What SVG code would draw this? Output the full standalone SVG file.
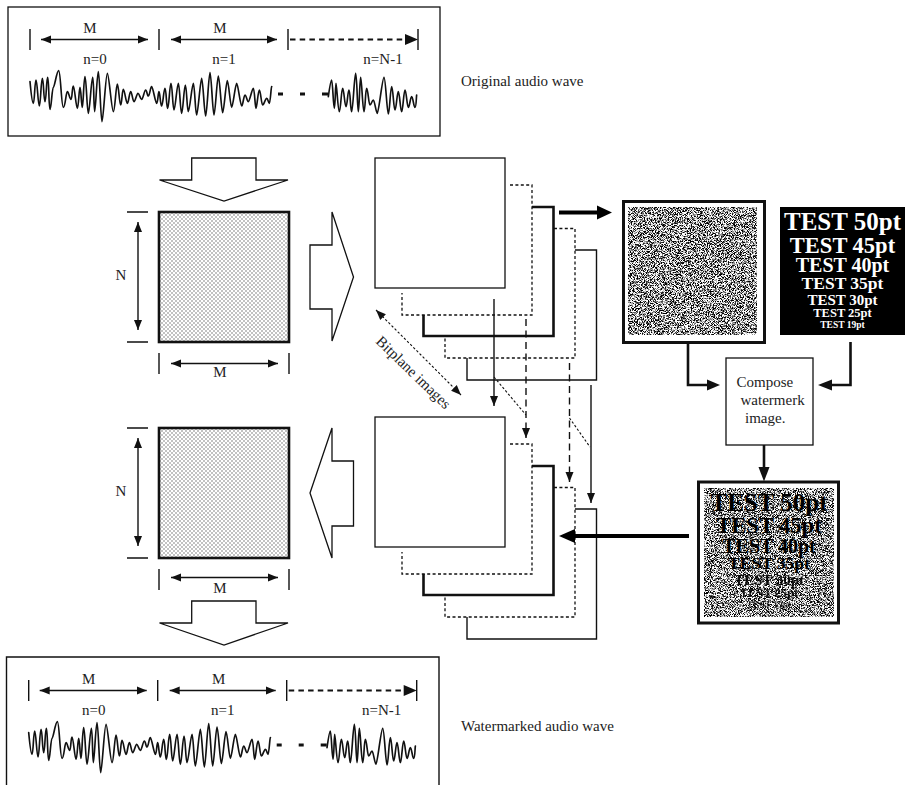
<svg xmlns="http://www.w3.org/2000/svg" width="905" height="785" viewBox="0 0 905 785">
<style>
text{font-family:"Liberation Serif","Times New Roman",serif;font-size:15px;fill:#222}
.c{text-anchor:middle}
.s{fill:none;stroke:#111;stroke-width:1.4;stroke-linecap:butt;stroke-linejoin:miter}
.w{fill:#fff;stroke:#111;stroke-width:1.3}
.t{stroke-width:2.6}
.d{stroke-width:1.3;stroke-dasharray:3 2.4}
.m{stroke-width:1.4;stroke-dasharray:7 4.5}
.o{stroke-width:1.1;stroke-dasharray:2.4 2}
.b{font-weight:bold;text-anchor:middle}
.wave{fill:none;stroke:#111;stroke-width:5;stroke-linejoin:round;stroke-linecap:round}
</style>
<defs>
<marker id="h" markerUnits="userSpaceOnUse" markerWidth="12" markerHeight="10" refX="10" refY="5" orient="auto-start-reverse"><path d="M0,1 L10,5 L0,9 Z" fill="#111"/></marker>
<pattern id="dots" width="4" height="4" patternUnits="userSpaceOnUse" x="159" y="212"><rect width="4" height="4" fill="#fff"/><circle cx="1" cy="1" r="0.75" fill="#666"/><circle cx="3" cy="3" r="0.75" fill="#666"/></pattern>
<filter id="noise" x="0" y="0" width="1" height="1" color-interpolation-filters="sRGB"><feTurbulence type="fractalNoise" baseFrequency="1.3" numOctaves="2" seed="7"/><feColorMatrix type="matrix" values="1 0 0 0 0 1 0 0 0 0 1 0 0 0 0 0 0 0 0 1"/><feComponentTransfer><feFuncR type="linear" slope="5" intercept="-1.9"/><feFuncG type="linear" slope="5" intercept="-1.9"/><feFuncB type="linear" slope="5" intercept="-1.9"/></feComponentTransfer></filter>
<g id="wavehead">
<path d="M30,29V50M159,29V50M288,29V50M418,29V50" class="s"/>
<path class="s" d="M41,39.500H148" marker-start="url(#h)" marker-end="url(#h)"/>
<path class="s" d="M171,39.500H277" marker-start="url(#h)" marker-end="url(#h)"/>
<path d="M290,39.500H406" class="s" style="stroke-width:2.200;stroke-dasharray:5.500 4.200"/>
<path d="M405,34L418,39.500L405,45Z" fill="#111"/>
<text class="c" x="90" y="32.500">M</text><text class="c" x="220" y="32.500">M</text>
<text class="c" x="95" y="64">n=0</text><text class="c" x="224" y="64">n=1</text><text class="c" x="383" y="64">n=N-1</text>
<path d="M278,94H283M300,94H305M322,94H328" stroke="#111" stroke-width="3.200" fill="none"/>
<path class="wave" transform="scale(.33333)" d="M90,245 S96,310 100,310 S104,240 108,240 S114,318 118,318 S123,235 127,235 S131,305 135,305 S139,232 143,232 S146,328 150,328 S156,262 160,262 S170,212 176,212 S184,322 190,322 S198,275 202,275 S209,298 213,298 S216,258 220,258 S228,325 232,325 S237,262 240,262 S244,322 247,322 S251,230 255,230 S261,340 265,340 S274,232 278,232 S281,335 284,335 S291,215 295,215 S302,365 306,365 S317,220 322,220 S335,335 340,335 S348,252 352,252 S358,315 362,315 S366,268 370,268 S378,310 382,310 S388,275 392,275 S398,305 402,305 S410,280 414,280 S421,298 425,298 S433,270 437,270 S441,288 445,288 S451,260 455,260 S466,310 470,310 S474,275 477,275 S481,318 485,318 S491,265 495,265 S499,325 503,325 S509,250 513,250 S518,330 522,330 S531,250 535,250 S541,340 545,340 S552,255 556,255 S561,335 565,335 S576,250 580,250 S586,345 590,345 S601,235 605,235 S613,348 617,348 S626,218 630,218 S638,345 642,345 S651,228 655,228 S664,338 668,338 S678,242 682,242 S691,322 695,322 S706,250 710,250 S721,318 725,318 S731,285 735,285 S741,305 745,305 S756,265 760,265 S765,325 768,325 S774,270 778,270 S784,315 788,315 S796,295 800,295 S805,310 808,310 S813,262 815,260"/>
<path class="wave" transform="scale(.33333)" d="M985,290 S992,240 995,240 S1000,325 1003,325 S1006,250 1008,250 S1014,335 1018,335 S1024,265 1028,265 S1034,320 1038,320 S1043,270 1047,270 S1051,335 1055,335 S1063,220 1067,220 S1072,335 1075,335 S1079,232 1082,232 S1088,335 1092,335 S1096,265 1100,265 S1106,315 1110,315 S1116,300 1120,300 S1128,340 1132,340 S1147,232 1152,232 S1161,342 1165,342 S1171,260 1175,260 S1181,330 1185,330 S1191,275 1195,275 S1201,335 1205,335 S1211,270 1215,270 S1221,322 1225,322 S1231,290 1235,290 S1241,322 1245,322 S1249,288 1250,285"/>
</g>
<g id="plane">
<path class="s d" d="M510,185H532V315H402V293"/>
<path class="s t" d="M532,207H553.500V336H423.500V315"/>
<path class="s d" d="M554,228.500H575V358H445V337"/>
<path class="s" d="M575,250H596.500V380H467V358"/>
</g>
<g id="sizes">
<path class="s" d="M127,212H148M127,342H148M159,353V374M289,353V374"/>
<text class="c" x="121" y="280">N</text>
<text class="c" x="220" y="377">M</text>
</g>
</defs>
<g id="original-wave">
<rect class="w" x="8" y="7" width="432" height="129"/>
<use href="#wavehead"/>
<text x="461" y="86">Original audio wave</text>
</g>
<g id="input-block">
<rect x="159" y="212" width="130" height="130" fill="url(#dots)" stroke="#111" stroke-width="2.600"/>
<use href="#sizes"/>
</g>
<g id="output-block">
<rect x="159" y="428" width="130" height="130" fill="url(#dots)" stroke="#111" stroke-width="2.600"/>
<use href="#sizes" y="216"/>
</g>
<g id="arrow-down-top"><path class="w" d="M191.700,158H256V180H288L224,201L159.500,180H191.700Z"/></g>
<g id="arrow-right"><path class="w" d="M310,245H332V212L353.500,277L332,341V309H310Z"/></g>
<g id="arrow-left"><path class="w" d="M353.500,461H332V428L310,493L332,558V526H353.500Z"/></g>
<g id="arrow-down-bottom"><path class="w" d="M191.700,601H256V623H288L224,645L159.500,623H191.700Z"/></g>
<g id="bitplanes-top">
<use href="#plane"/>
<rect class="w" x="375" y="158" width="130" height="130"/>
</g>
<g id="bitplanes-bottom">
<use href="#plane" y="259"/>
<rect class="w" x="375" y="417" width="130" height="130"/>
</g>
<g id="bitplane-label"><text class="c" transform="translate(410,376) rotate(44)" x="0" y="0">Bitplane images</text></g>
<g id="noise-image">
<rect x="623.500" y="201.500" width="141" height="141" fill="#fff" stroke="#111" stroke-width="3"/>
<rect x="628" y="207" width="129" height="128" filter="url(#noise)"/>
</g>
<g id="test-image">
<rect x="780" y="207" width="125" height="128" fill="#000"/>
<text class="b" style="fill:#fff;font-size:25px" x="842.500" y="230">TEST 50pt</text>
<text class="b" style="fill:#fff;font-size:22.500px" x="842.500" y="252.500">TEST 45pt</text>
<text class="b" style="fill:#fff;font-size:20px" x="842.500" y="271.500">TEST 40pt</text>
<text class="b" style="fill:#fff;font-size:17.500px" x="842.500" y="288.500">TEST 35pt</text>
<text class="b" style="fill:#fff;font-size:15px" x="842.500" y="305">TEST 30pt</text>
<text class="b" style="fill:#fff;font-size:12.500px" x="842.500" y="316.500">TEST 25pt</text>
<text class="b" style="fill:#fff;font-size:9.500px" x="842.500" y="327.500">TEST 19pt</text>
</g>
<g id="compose">
<rect class="w" x="726" y="358" width="87" height="87"/>
<text x="736.500" y="387">Compose</text>
<text x="740.500" y="405">watermerk</text>
<text x="745" y="423">image.</text>
</g>
<g id="watermarked-image">
<rect x="698.500" y="482" width="140" height="141" fill="#fff" stroke="#111" stroke-width="3"/>
<rect x="704" y="488" width="130" height="129" filter="url(#noise)"/>
<text class="b" style="fill:#000;font-size:25px" x="769" y="511">TEST 50pt</text>
<text class="b" style="fill:#000;font-size:22.500px" x="769" y="533">TEST 45pt</text>
<text class="b" style="fill:#000;font-size:20px" x="769" y="553">TEST 40pt</text>
<text class="b" style="fill:#000;font-size:17.500px" x="769" y="569">TEST 35pt</text>
<text class="b" style="fill:#000;font-size:15px;opacity:.9" x="769" y="584.500">TEST 30pt</text>
<text class="b" style="fill:#000;font-size:12.500px;opacity:.85" x="769" y="597">TEST 25pt</text>
<text class="b" style="fill:#000;font-size:9.500px;opacity:.65" x="769" y="607.500">TEST 19pt</text>
</g>
<g id="watermarked-wave">
<path class="s" d="M6.500,785V657H439V785"/>
<use href="#wavehead" x="-1.300" y="651"/>
<text x="461" y="731">Watermarked audio wave</text>
</g>
<g id="connectors">
<path class="s" d="M138,222V330" marker-start="url(#h)" marker-end="url(#h)"/>
<path class="s" d="M171,363.500H278" marker-start="url(#h)" marker-end="url(#h)"/>
<path class="s" d="M138,438V546" marker-start="url(#h)" marker-end="url(#h)"/>
<path class="s" d="M171,577.500H278" marker-start="url(#h)" marker-end="url(#h)"/>
<path class="s o" d="M376,310L461,395" marker-start="url(#h)" marker-end="url(#h)"/>
<path class="s" d="M494,299V406" marker-end="url(#h)"/>
<path class="s m" d="M526,319V438" marker-end="url(#h)"/>
<path class="s o" d="M494,377L526,415"/>
<path class="s m" d="M569.500,363V482" marker-end="url(#h)"/>
<path class="s o" d="M569.500,418L590,447"/>
<path class="s" d="M591,385V503" marker-end="url(#h)"/>
<path d="M559,212.500H600" stroke="#000" stroke-width="4" fill="none"/><path d="M597,205.500L612,212.500L597,219.500Z" fill="#000"/>
<path d="M689,536H573" stroke="#000" stroke-width="4" fill="none"/><path d="M575,529L559,536L575,543Z" fill="#000"/>
<path class="s t" d="M688,343V385H709"/><path d="M707,379.500L720,385L707,390.500Z" fill="#111"/>
<path class="s t" d="M850.500,342V385H830"/><path d="M832,379.500L818,385L832,390.500Z" fill="#111"/>
<path class="s t" d="M764,445V469"/><path d="M758.500,467L764,481.500L769.500,467Z" fill="#111"/>
</g>
</svg>
